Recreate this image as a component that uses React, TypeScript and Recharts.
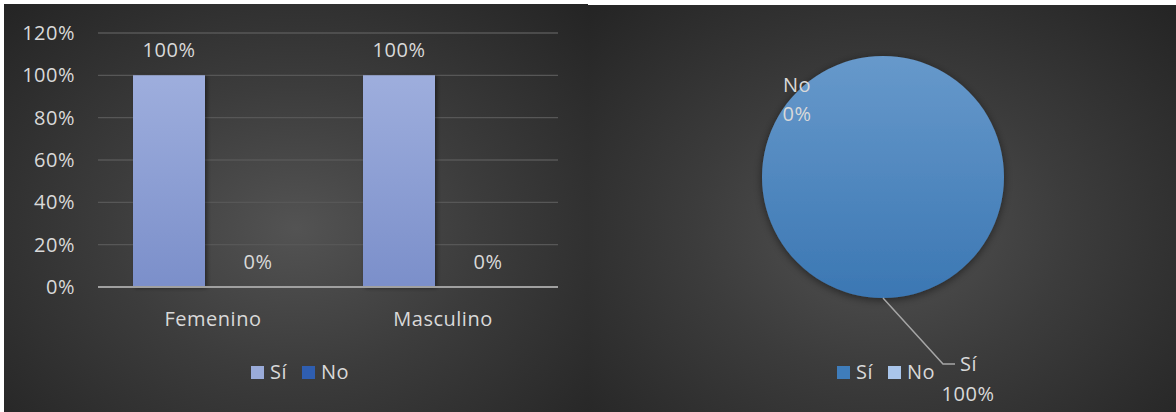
import React from "react";
import {
  BarChart,
  Bar,
  XAxis,
  YAxis,
  CartesianGrid,
  LabelList,
  Legend,
  Cell,
  PieChart,
  Pie,
} from "recharts";

const categories = ["Femenino", "Masculino"];
const siValues = [1, 1];
const noValues = [0, 0];
const yTicks = [0, 0.2, 0.4, 0.6, 0.8, 1, 1.2];

const pieNames = ["Sí", "No"];
const pieValues = [1, 0];

const barData = categories.map((name, i) => ({ name, si: siValues[i], no: noValues[i] }));
const pieData = pieNames.map((name, i) => ({ name, value: pieValues[i] }));

const FONT = "'Open Sans', sans-serif";
const TEXT = "#d9d9d9";
const FS = 20;
const LS = 0.5;
const BG =
  "radial-gradient(ellipse farthest-corner at 50% 55%, #535353 0%, #3c3c3c 45%, #242424 100%)";

const pct = (v: any) => `${Math.round(Number(v) * 100)}%`;

const barLegend = [
  { label: "Sí", color: "#9aabd9" },
  { label: "No", color: "#2f5eb0" },
];
const pieLegend = [
  { label: "Sí", color: "#3f7dbb" },
  { label: "No", color: "#a9c5ea" },
];

const txtStyle = { fill: TEXT, fontFamily: FONT, fontSize: FS, letterSpacing: LS };

const LegendRow = ({ items }: { items: { label: string; color: string }[] }) => (
  <div
    style={{
      display: "flex",
      justifyContent: "center",
      alignItems: "center",
      gap: 15,
      fontFamily: FONT,
      fontSize: FS,
      letterSpacing: LS,
      color: TEXT,
      lineHeight: "14px",
    }}
  >
    {items.map((it) => (
      <div key={it.label} style={{ display: "flex", alignItems: "center", gap: 6 }}>
        <span style={{ width: 13, height: 13, background: it.color, display: "inline-block" }} />
        <span>{it.label}</span>
      </div>
    ))}
  </div>
);

// zero-height bars get no LabelList entry, so the label is drawn with the bar shape
const NoBarShape = (props: any) => {
  const { x, y, width, height, fill, value } = props;
  const v = Array.isArray(value) ? value[1] : value;
  return (
    <g>
      {height > 0 && <rect x={x} y={y} width={width} height={height} fill={fill} />}
      <text x={x + width / 2} y={y - 18} textAnchor="middle" {...txtStyle}>
        {pct(v)}
      </text>
    </g>
  );
};

const renderPieLabel = (props: any) => {
  const { cx, cy, midAngle, outerRadius, index, name, value } = props;
  const rad = Math.PI / 180;
  const x0 = cx + outerRadius * Math.cos(-midAngle * rad);
  const y0 = cy + outerRadius * Math.sin(-midAngle * rad);
  if (index === 0) {
    const ex = x0 + 60;
    const ey = y0 + 66;
    return (
      <g>
        <polyline
          points={`${x0},${y0} ${ex},${ey} ${ex + 12},${ey}`}
          fill="none"
          stroke="#a6a6a6"
          strokeWidth={1.5}
        />
        <text x={ex + 17} y={ey} dy="0.35em" {...txtStyle}>
          {name}
        </text>
        <text x={ex + 25} y={ey + 30} dy="0.35em" textAnchor="middle" {...txtStyle}>
          {pct(value)}
        </text>
      </g>
    );
  }
  return (
    <g>
      <text x={x0 - 86} y={y0 + 29} dy="0.35em" textAnchor="middle" {...txtStyle}>
        {name}
      </text>
      <text x={x0 - 86} y={y0 + 58} dy="0.35em" textAnchor="middle" {...txtStyle}>
        {pct(value)}
      </text>
    </g>
  );
};

export default function App() {
  return (
    <div
      style={{
        position: "absolute",
        left: 0,
        top: 0,
        width: 1176,
        height: 412,
        background: "#fff",
        overflow: "hidden",
      }}
    >
      <div style={{ position: "absolute", left: 4, top: 4, width: 584, height: 408, background: BG }}>
        <BarChart
          width={584}
          height={408}
          data={barData}
          margin={{ top: 29, right: 30, bottom: 85, left: 34 }}
          barSize={72}
          barGap={17}
        >
          <defs>
            <linearGradient id="siGrad" x1="0" y1="0" x2="0" y2="1">
              <stop offset="0%" stopColor="#9eaedd" />
              <stop offset="100%" stopColor="#7b8fca" />
            </linearGradient>
            <linearGradient id="noGrad" x1="0" y1="0" x2="0" y2="1">
              <stop offset="0%" stopColor="#3a68b8" />
              <stop offset="100%" stopColor="#2a55a4" />
            </linearGradient>
            <filter id="barShadow" x="-20%" y="-10%" width="140%" height="120%">
              <feDropShadow dx="2" dy="1" stdDeviation="2" floodColor="#000" floodOpacity="0.45" />
            </filter>
          </defs>
          <CartesianGrid vertical={false} stroke="#575757" strokeWidth={1.3} />
          <XAxis
            dataKey="name"
            height={40}
            axisLine={{ stroke: "#a0a0a0", strokeWidth: 2 }}
            tickLine={false}
            tickSize={0}
            tickMargin={25}
            tick={txtStyle}
          />
          <YAxis
            width={60}
            domain={[0, 1.2]}
            ticks={yTicks}
            tickFormatter={pct}
            axisLine={false}
            tickLine={false}
            tickSize={0}
            tickMargin={23}
            tick={txtStyle}
          />
          <Legend
            layout="horizontal"
            verticalAlign="middle"
            wrapperStyle={{ top: 361, left: 4, width: 584 }}
            content={() => <LegendRow items={barLegend} />}
          />
          <Bar dataKey="si" name="Sí" fill="url(#siGrad)" isAnimationActive={false}>
            {barData.map((d) => (
              <Cell key={d.name} filter="url(#barShadow)" />
            ))}
            <LabelList dataKey="si" position="top" offset={18} formatter={pct} {...txtStyle} />
          </Bar>
          <Bar
            dataKey="no"
            name="No"
            fill="url(#noGrad)"
            shape={NoBarShape}
            isAnimationActive={false}
          />
        </BarChart>
      </div>
      <div style={{ position: "absolute", left: 588, top: 5, width: 588, height: 407, background: BG }}>
        <PieChart width={588} height={407} margin={{ top: 0, right: 0, bottom: 0, left: 0 }}>
          <defs>
            <linearGradient id="pieSi" x1="0" y1="0" x2="0" y2="1">
              <stop offset="0%" stopColor="#6799cb" />
              <stop offset="100%" stopColor="#3b77b3" />
            </linearGradient>
            <filter id="pieShadow" x="-20%" y="-20%" width="140%" height="140%">
              <feDropShadow dx="0" dy="2" stdDeviation="4" floodColor="#000" floodOpacity="0.5" />
            </filter>
          </defs>
          <Pie
            data={pieData}
            dataKey="value"
            nameKey="name"
            cx={295}
            cy={172}
            outerRadius={121}
            startAngle={90}
            endAngle={-270}
            stroke="none"
            label={renderPieLabel}
            labelLine={false}
            isAnimationActive={false}
          >
            <Cell fill="url(#pieSi)" filter="url(#pieShadow)" />
            <Cell fill="#a9c5ea" />
          </Pie>
          <Legend
            layout="horizontal"
            verticalAlign="middle"
            wrapperStyle={{ top: 360, left: 4, width: 588 }}
            content={() => <LegendRow items={pieLegend} />}
          />
        </PieChart>
      </div>
    </div>
  );
}
